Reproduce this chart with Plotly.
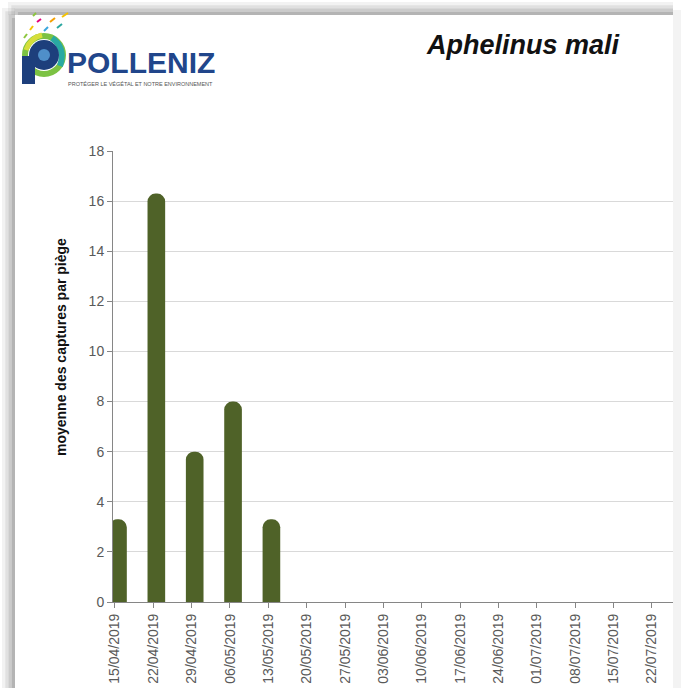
import plotly.graph_objects as go

# ---- data ----
dates = ["15/04/2019", "22/04/2019", "29/04/2019", "06/05/2019", "13/05/2019",
         "20/05/2019", "27/05/2019", "03/06/2019", "10/06/2019", "17/06/2019",
         "24/06/2019", "01/07/2019", "08/07/2019", "15/07/2019", "22/07/2019"]
captures = [3.3, 16.3, 6.0, 8.0, 3.3, 0, 0, 0, 0, 0, 0, 0, 0, 0, 0]
y_ticks = [0, 2, 4, 6, 8, 10, 12, 14, 16, 18]
title_text = "Aphelinus mali"
y_title = "moyenne des captures par piège"

W, H = 681, 688
L, R, T, B = 113, 673, 151, 602  # plot area in pixels


def px(x):
    return (x - L) / (R - L)


def py(y):
    return (B - y) / (B - T)


fig = go.Figure()
fig.add_trace(go.Bar(
    x=dates, y=captures,
    marker=dict(color="#4f6228", cornerradius=9, line=dict(width=0)),
    width=0.46, offset=-0.15,
    hoverinfo="x+y",
))

shapes = []
# drop shadow along top and left edges
for i, a in enumerate([0.05, 0.07, 0.09, 0.11]):
    s = 2 + i * 3.3
    shapes.append(dict(type="rect", xref="paper", yref="paper",
                       x0=px(s + 6), x1=px(R), y0=py(s), y1=py(15),
                       fillcolor=f"rgba(0,0,0,{a})", line=dict(width=0), layer="below"))
    shapes.append(dict(type="rect", xref="paper", yref="paper",
                       x0=px(s), x1=px(15), y0=py(s + 6), y1=py(H),
                       fillcolor=f"rgba(0,0,0,{a})", line=dict(width=0), layer="below"))
# right strip
shapes.append(dict(type="rect", xref="paper", yref="paper",
                   x0=px(R), x1=px(W), y0=py(10), y1=py(H),
                   fillcolor="#f3f3f3", line=dict(width=0), layer="below"))

# logo: P mark
blue = "#1d3f7c"
shapes.append(dict(type="circle", xref="paper", yref="paper",
                   x0=px(25), x1=px(63), y0=py(74), y1=py(36),
                   fillcolor="rgba(0,0,0,0)", line=dict(color="#7cc243", width=6)))
shapes.append(dict(type="path", xref="paper", yref="paper",
                   path=f"M {px(52)},{py(38)} Q {px(66)},{py(48)} {px(60)},{py(66)}",
                   line=dict(color="#29a9a2", width=6)))
shapes.append(dict(type="path", xref="paper", yref="paper",
                   path=f"M {px(26)},{py(50)} Q {px(30)},{py(38)} {px(42)},{py(35)}",
                   line=dict(color="#d6de3a", width=5)))
shapes.append(dict(type="rect", xref="paper", yref="paper",
                   x0=px(22), x1=px(35), y0=py(84), y1=py(56),
                   fillcolor=blue, line=dict(width=0)))
shapes.append(dict(type="circle", xref="paper", yref="paper",
                   x0=px(29), x1=px(59), y0=py(70), y1=py(40),
                   fillcolor=blue, line=dict(width=0)))
shapes.append(dict(type="circle", xref="paper", yref="paper",
                   x0=px(38), x1=px(50), y0=py(61), y1=py(49),
                   fillcolor="#4f8fc9", line=dict(width=0)))
confetti = [(30, 30, 33, 26, "#f5c400"), (37, 22, 41, 19, "#e4007c"),
            (44, 31, 48, 27, "#3aa6dd"), (50, 22, 55, 18, "#f5a000"),
            (24, 38, 27, 34, "#8cc63f"), (57, 28, 62, 24, "#2aa7a0"),
            (62, 17, 68, 13, "#f5c400"), (33, 16, 36, 13, "#8cc63f")]
for x0, y0, x1, y1, c in confetti:
    shapes.append(dict(type="line", xref="paper", yref="paper",
                       x0=px(x0), y0=py(y0), x1=px(x1), y1=py(y1),
                       line=dict(color=c, width=2)))

annotations = [
    dict(text="<b>POLLENIZ</b>", x=px(65), y=py(62), xref="paper", yref="paper",
         xanchor="left", yanchor="middle", showarrow=False,
         font=dict(family="Arial, Liberation Sans", size=30, color="#21468b")),
    dict(text="PROTÉGER LE VÉGÉTAL ET NOTRE ENVIRONNEMENT", x=px(66), y=py(84),
         xref="paper", yref="paper", xanchor="left", yanchor="middle", showarrow=False,
         font=dict(family="Arial, Liberation Sans", size=5.5, color="#555555")),
    dict(text=f"<b><i>{title_text}</i></b>", x=px(523), y=py(45), xref="paper", yref="paper",
         xanchor="center", yanchor="middle", showarrow=False,
         font=dict(family="Arial, Liberation Sans", size=27, color="#111111")),
    dict(text=f"<b>{y_title}</b>", x=px(61), y=py(347), xref="paper", yref="paper",
         xanchor="center", yanchor="middle", showarrow=False, textangle=-90,
         font=dict(family="Arial, Liberation Sans", size=14, color="#111111")),
]

fig.update_layout(
    width=W, height=H,
    margin=dict(l=L, r=W - R, t=T, b=H - B),
    paper_bgcolor="white", plot_bgcolor="white",
    showlegend=False,
    shapes=shapes, annotations=annotations,
    font=dict(family="Arial, Liberation Sans", color="#595959"),
    xaxis=dict(type="category", categoryorder="array", categoryarray=dates,
               range=[-0.05, 14.55], tickmode="array", tickvals=dates, ticktext=dates,
               tickangle=-90, tickfont=dict(size=14, color="#595959"),
               showline=True, linecolor="#868686", linewidth=1,
               ticks="outside", ticklen=5, tickcolor="#868686",
               showgrid=False, zeroline=False, automargin=False),
    yaxis=dict(range=[0, 18], tickmode="array", tickvals=y_ticks,
               tickfont=dict(size=14, color="#595959"),
               showline=True, linecolor="#868686", linewidth=1,
               ticks="outside", ticklen=5, tickcolor="#868686",
               showgrid=True, gridcolor="#d9d9d9", gridwidth=1,
               zeroline=False, automargin=False),
)

fig.write_html("out.html", config={"displayModeBar": False},
               post_script="document.body.style.margin='0';")
